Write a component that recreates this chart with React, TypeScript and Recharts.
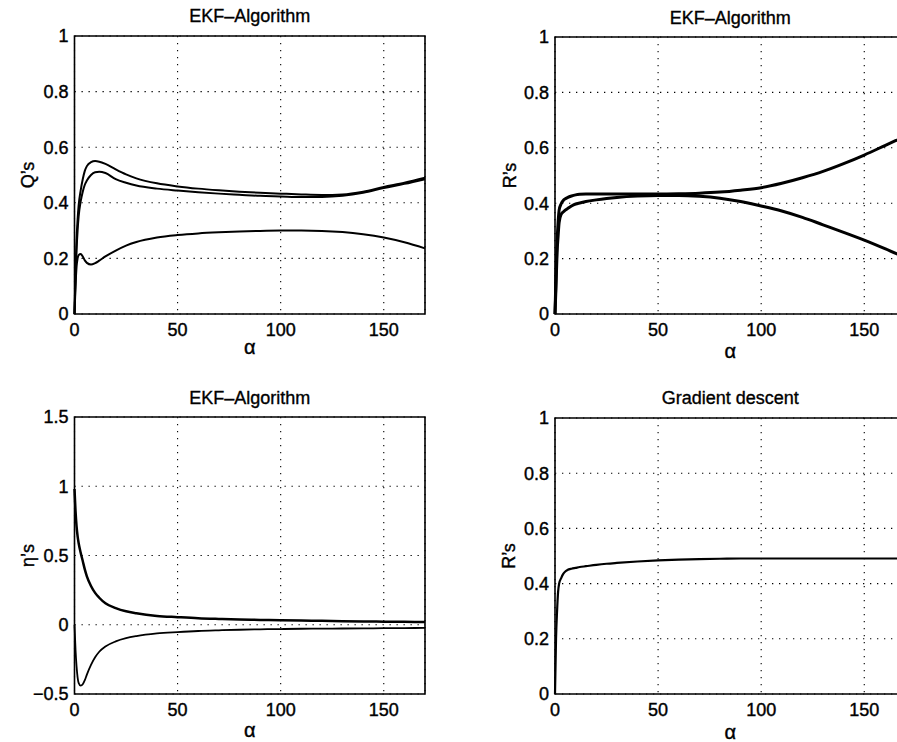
import React from 'react';
import { LineChart, Line, XAxis, YAxis, CartesianGrid, ReferenceArea } from 'recharts';

const FONT = '"Liberation Sans", Arial, Helvetica, sans-serif';

// alpha samples shared by all four panels (denser near 0 where the curves move fast)
const ALPHA = [0, 0.5, 1, 1.5, 2, 3, 4, 5, 6, 8, 10, 12, 15, 20, 25, 30, 40, 50, 60, 70, 80, 90, 100, 110, 120, 130, 140, 150, 160, 170];

// EKF: Q's
const Q_TOP = [0, 0.16, 0.27, 0.34, 0.39, 0.445, 0.485, 0.515, 0.532, 0.546, 0.55, 0.548, 0.54, 0.52, 0.502, 0.488, 0.47, 0.459, 0.451, 0.445, 0.44, 0.436, 0.433, 0.43, 0.428, 0.43, 0.44, 0.457, 0.472, 0.49];
const Q_MID = [0, 0.13, 0.23, 0.3, 0.35, 0.405, 0.44, 0.465, 0.48, 0.5, 0.51, 0.512, 0.507, 0.485, 0.472, 0.462, 0.451, 0.444, 0.438, 0.433, 0.429, 0.425, 0.423, 0.421, 0.421, 0.425, 0.436, 0.453, 0.468, 0.485];
const Q_LOW = [0, 0.1, 0.17, 0.2, 0.212, 0.216, 0.207, 0.193, 0.184, 0.178, 0.183, 0.192, 0.207, 0.228, 0.246, 0.259, 0.275, 0.284, 0.29, 0.294, 0.297, 0.299, 0.3, 0.3, 0.299, 0.295, 0.287, 0.275, 0.258, 0.236];

// EKF: R's
const R_UP = [0, 0.15, 0.26, 0.33, 0.375, 0.398, 0.41, 0.416, 0.42, 0.426, 0.43, 0.432, 0.433, 0.433, 0.433, 0.433, 0.433, 0.433, 0.434, 0.436, 0.44, 0.447, 0.456, 0.472, 0.492, 0.515, 0.543, 0.574, 0.608, 0.642];
const R_LOW = [0, 0.1, 0.22, 0.28, 0.33, 0.36, 0.368, 0.375, 0.38, 0.39, 0.397, 0.401, 0.406, 0.412, 0.417, 0.421, 0.426, 0.428, 0.428, 0.425, 0.418, 0.406, 0.39, 0.372, 0.349, 0.322, 0.295, 0.267, 0.236, 0.203];

// EKF: eta's
const ETA_UP = [0.98, 0.82, 0.71, 0.64, 0.59, 0.52, 0.46, 0.4, 0.35, 0.28, 0.23, 0.195, 0.155, 0.12, 0.097, 0.083, 0.064, 0.055, 0.047, 0.042, 0.038, 0.035, 0.032, 0.03, 0.028, 0.026, 0.024, 0.022, 0.021, 0.02];
const ETA_LOW = [0, -0.18, -0.3, -0.38, -0.42, -0.44, -0.43, -0.4, -0.36, -0.29, -0.235, -0.195, -0.157, -0.12, -0.097, -0.082, -0.063, -0.053, -0.045, -0.04, -0.036, -0.033, -0.031, -0.029, -0.028, -0.027, -0.026, -0.025, -0.024, -0.023];

// Gradient descent: R's
const GD_R = [0, 0.2, 0.3, 0.37, 0.4, 0.42, 0.435, 0.444, 0.449, 0.454, 0.457, 0.46, 0.463, 0.468, 0.472, 0.475, 0.48, 0.484, 0.487, 0.489, 0.49, 0.491, 0.491, 0.491, 0.491, 0.491, 0.491, 0.491, 0.491, 0.491];

const X_TICKS = [0, 50, 100, 150];
const UNIT_TICKS = [0, 0.2, 0.4, 0.6, 0.8, 1];
const ETA_TICKS = [-0.5, 0, 0.5, 1, 1.5];

const fmtTick = (v: number) => (v < 0 ? `\u2212${Math.abs(v)}` : `${v}`);

interface Series {
  values: number[];
  width: number;
}

interface PanelProps {
  left: number;
  top: number;
  width: number;
  height: number;
  plotLeft: number;
  plotTop: number;
  plotWidth: number;
  plotHeight: number;
  title: string;
  titleTop: number;
  yLabel: string;
  yLabelX: number;
  xLabelGap: number; // axis line to alpha baseline
  yDomain: [number, number];
  yTicks: number[];
  series: Series[];
}

const X_AXIS_H = 45;

// scanned print looks heavier than the plain font, so give the glyphs a thin outline
const INK = { fill: '#000', stroke: '#000', strokeWidth: 0.4 };

function Panel(p: PanelProps) {
  const data = ALPHA.map((a, i) => {
    const row: Record<string, number> = { alpha: a };
    p.series.forEach((s, k) => {
      row[`s${k}`] = s.values[i];
    });
    return row;
  });

  const margin = {
    top: p.plotTop,
    left: 0,
    right: p.width - p.plotLeft - p.plotWidth,
    bottom: p.height - p.plotTop - p.plotHeight - X_AXIS_H,
  };

  const tick = { ...INK, fontSize: 18 };

  return (
    <div style={{ position: 'absolute', left: p.left, top: p.top, width: p.width, height: p.height }}>
      <div
        style={{
          position: 'absolute',
          left: p.plotLeft,
          width: p.plotWidth,
          top: p.titleTop,
          textAlign: 'center',
          fontSize: 18,
          lineHeight: '18px',
          color: '#000',
          WebkitTextStroke: '0.35px #000',
          whiteSpace: 'nowrap',
        }}
      >
        {p.title}
      </div>
      <LineChart width={p.width} height={p.height} data={data} margin={margin}>
        <CartesianGrid stroke="#000" strokeWidth={1.1} strokeDasharray="1.3 5.7" />
        <XAxis
          dataKey="alpha"
          type="number"
          domain={[0, 170]}
          ticks={X_TICKS}
          height={X_AXIS_H}
          axisLine={false}
          tickLine={false}
          tickSize={6}
          tickMargin={3}
          tick={tick}
          label={{ value: 'α', position: 'insideBottom', offset: X_AXIS_H - p.xLabelGap, ...INK, fontSize: 20 }}
        />
        <YAxis
          type="number"
          domain={p.yDomain}
          ticks={p.yTicks}
          width={p.plotLeft}
          axisLine={false}
          tickLine={false}
          tickSize={6}
          tickMargin={0}
          tick={tick}
          tickFormatter={fmtTick}
          label={{
            value: p.yLabel,
            angle: -90,
            position: 'insideLeft',
            offset: p.yLabelX,
            ...INK,
            fontSize: 18,
            style: { textAnchor: 'middle' },
          }}
        />
        {p.series.map((s, k) => (
          <Line
            key={k}
            type="monotone"
            dataKey={`s${k}`}
            stroke="#000"
            strokeWidth={s.width}
            dot={false}
            activeDot={false}
            isAnimationActive={false}
          />
        ))}
        <ReferenceArea
          x1={0}
          x2={170}
          y1={p.yDomain[0]}
          y2={p.yDomain[1]}
          fill="none"
          fillOpacity={0}
          stroke="#000"
          strokeWidth={1.6}
        />
      </LineChart>
    </div>
  );
}

export default function App() {
  return (
    <div
      style={{
        position: 'absolute',
        left: 0,
        top: 0,
        width: 897,
        height: 742,
        overflow: 'hidden',
        background: '#fff',
        fontFamily: FONT,
      }}
    >
      <Panel
        left={0}
        top={0}
        width={450}
        height={370}
        plotLeft={74.5}
        plotTop={36}
        plotWidth={350.5}
        plotHeight={278}
        title="EKF–Algorithm"
        titleTop={7}
        yLabel="Q’s"
        yLabelX={28}
        xLabelGap={40}
        yDomain={[0, 1]}
        yTicks={UNIT_TICKS}
        series={[
          { values: Q_TOP, width: 2 },
          { values: Q_MID, width: 2 },
          { values: Q_LOW, width: 2 },
        ]}
      />
      <Panel
        left={450}
        top={0}
        width={500}
        height={370}
        plotLeft={105}
        plotTop={37}
        plotWidth={350.5}
        plotHeight={277}
        title="EKF–Algorithm"
        titleTop={9}
        yLabel="R’s"
        yLabelX={60}
        xLabelGap={44}
        yDomain={[0, 1]}
        yTicks={UNIT_TICKS}
        series={[
          { values: R_UP, width: 3 },
          { values: R_LOW, width: 3 },
        ]}
      />
      <Panel
        left={0}
        top={370}
        width={450}
        height={372}
        plotLeft={74.5}
        plotTop={47}
        plotWidth={350.5}
        plotHeight={277}
        title="EKF–Algorithm"
        titleTop={19}
        yLabel="η’s"
        yLabelX={28}
        xLabelGap={43}
        yDomain={[-0.5, 1.5]}
        yTicks={ETA_TICKS}
        series={[
          { values: ETA_UP, width: 2.5 },
          { values: ETA_LOW, width: 1.8 },
        ]}
      />
      <Panel
        left={450}
        top={370}
        width={500}
        height={372}
        plotLeft={105}
        plotTop={48}
        plotWidth={350.5}
        plotHeight={276}
        title="Gradient descent"
        titleTop={19}
        yLabel="R’s"
        yLabelX={59}
        xLabelGap={45}
        yDomain={[0, 1]}
        yTicks={UNIT_TICKS}
        series={[{ values: GD_R, width: 2.2 }]}
      />
    </div>
  );
}
